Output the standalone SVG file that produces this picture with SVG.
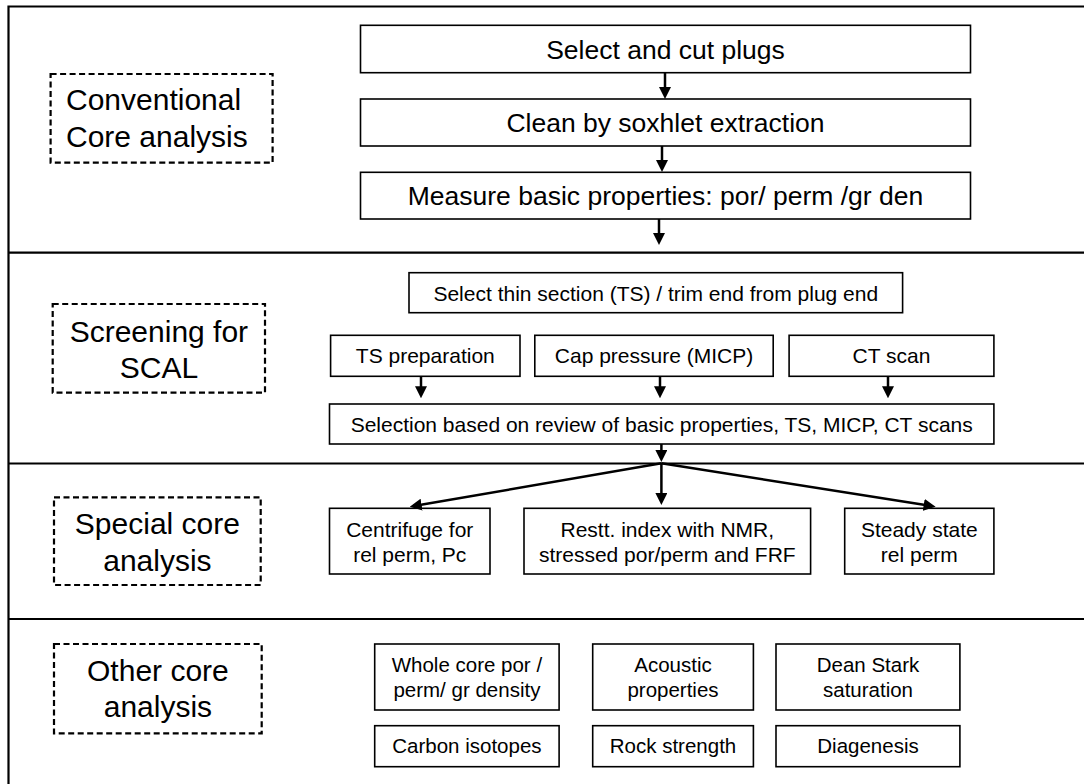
<svg xmlns="http://www.w3.org/2000/svg" width="1084" height="784" viewBox="0 0 1084 784">
<defs>
<marker id="ah" markerUnits="userSpaceOnUse" markerWidth="12" markerHeight="12" refX="8" refY="6" orient="auto">
<path d="M0,0 L12,6 L0,12 z" fill="#000"/>
</marker>
<style>
.frame{fill:none;stroke:#000;stroke-width:2.2}
.box{fill:#fff;stroke:#000;stroke-width:1.6}
.dash{fill:#fff;stroke:#000;stroke-width:2.2;stroke-dasharray:6,3.5}
.lbl{font-family:"Liberation Sans",Arial,sans-serif;font-size:30px;fill:#000}
.t1{font-family:"Liberation Sans",Arial,sans-serif;font-size:26.5px;fill:#000;text-anchor:middle}
.t2{font-family:"Liberation Sans",Arial,sans-serif;font-size:21px;fill:#000;text-anchor:middle}
.t3{font-family:"Liberation Sans",Arial,sans-serif;font-size:20.5px;fill:#000;text-anchor:middle}
.arr{fill:none;stroke:#000;stroke-width:2.5;marker-end:url(#ah)}
</style>
</defs>
<rect width="1084" height="784" fill="#fff"/>
<g id="frame">
<path class="frame" d="M1084,6.5 H8.5 V784"/>
<line class="frame" x1="8.5" y1="252.7" x2="1084" y2="252.7"/>
<line class="frame" x1="8.5" y1="463.5" x2="1084" y2="463.5"/>
<line class="frame" x1="8.5" y1="619" x2="1084" y2="619"/>
</g>
<g id="label-conventional">
<rect class="dash" x="50.6" y="74" width="222" height="88.7"/>
<text class="lbl" x="66" y="110">Conventional</text>
<text class="lbl" x="66" y="146.7">Core analysis</text>
</g>
<g id="label-screening">
<rect class="dash" x="52.7" y="304" width="212.3" height="88.7"/>
<text class="lbl" x="158.9" y="341.7" text-anchor="middle">Screening for</text>
<text class="lbl" x="158.9" y="378.3" text-anchor="middle">SCAL</text>
</g>
<g id="label-special">
<rect class="dash" x="54" y="497.3" width="206.7" height="87.7"/>
<text class="lbl" x="157.4" y="534" text-anchor="middle">Special core</text>
<text class="lbl" x="157.4" y="570.5" text-anchor="middle">analysis</text>
</g>
<g id="label-other">
<rect class="dash" x="54" y="644" width="207.7" height="89.3"/>
<text class="lbl" x="157.9" y="680.7" text-anchor="middle">Other core</text>
<text class="lbl" x="157.9" y="716.7" text-anchor="middle">analysis</text>
</g>
<g id="n-select">
<rect class="box" x="360.5" y="25.3" width="610" height="47.4"/>
<text class="t1" x="665.5" y="58.5">Select and cut plugs</text>
</g>
<g id="n-clean">
<rect class="box" x="360.5" y="99" width="610" height="47"/>
<text class="t1" x="665.5" y="131.8">Clean by soxhlet extraction</text>
</g>
<g id="n-measure">
<rect class="box" x="360.5" y="172.3" width="610" height="46.7"/>
<text class="t1" x="665.5" y="205">Measure basic properties: por/ perm /gr den</text>
</g>
<g id="n-thin">
<rect class="box" x="409" y="272.7" width="493.6" height="40"/>
<text class="t2" x="655.8" y="300.7">Select thin section (TS) / trim end from plug end</text>
</g>
<g id="n-tsprep">
<rect class="box" x="330.6" y="335.3" width="189.4" height="41"/>
<text class="t2" x="425.3" y="363.3">TS preparation</text>
</g>
<g id="n-micp">
<rect class="box" x="534.8" y="335.3" width="238.4" height="41"/>
<text class="t2" x="654" y="363.3">Cap pressure (MICP)</text>
</g>
<g id="n-ct">
<rect class="box" x="789.1" y="335.3" width="204.8" height="41"/>
<text class="t2" x="891.5" y="363.3">CT scan</text>
</g>
<g id="n-selection">
<rect class="box" x="329.5" y="404" width="664.4" height="40"/>
<text class="t2" x="661.7" y="431.8">Selection based on review of basic properties, TS, MICP, CT scans</text>
</g>
<g id="n-centrifuge">
<rect class="box" x="329.5" y="508.3" width="160.5" height="65.7"/>
<text class="t2" x="409.75" y="536.7">Centrifuge for</text>
<text class="t2" x="409.75" y="561.7">rel perm, Pc</text>
</g>
<g id="n-restt">
<rect class="box" x="524" y="508.3" width="286.6" height="65.7"/>
<text class="t2" x="667.3" y="536.7">Restt. index with NMR,</text>
<text class="t2" x="667.3" y="561.7">stressed por/perm and FRF</text>
</g>
<g id="n-steady">
<rect class="box" x="844.7" y="508.3" width="149.2" height="65.7"/>
<text class="t2" x="919.3" y="536.7">Steady state</text>
<text class="t2" x="919.3" y="561.7">rel perm</text>
</g>
<g id="n-whole">
<rect class="box" x="374.7" y="644" width="184.4" height="66"/>
<text class="t3" x="466.9" y="671.7">Whole core por /</text>
<text class="t3" x="466.9" y="696.7">perm/ gr density</text>
</g>
<g id="n-acoustic">
<rect class="box" x="592.7" y="644" width="160.7" height="66"/>
<text class="t3" x="673" y="671.7">Acoustic</text>
<text class="t3" x="673" y="696.7">properties</text>
</g>
<g id="n-dean">
<rect class="box" x="776" y="644" width="183.9" height="66"/>
<text class="t3" x="868" y="671.7">Dean Stark</text>
<text class="t3" x="868" y="696.7">saturation</text>
</g>
<g id="n-carbon">
<rect class="box" x="374.7" y="725.7" width="184.4" height="41"/>
<text class="t3" x="466.9" y="753.3">Carbon isotopes</text>
</g>
<g id="n-rock">
<rect class="box" x="592.7" y="725.7" width="160.7" height="41"/>
<text class="t3" x="673" y="753.3">Rock strength</text>
</g>
<g id="n-diag">
<rect class="box" x="776" y="725.7" width="183.9" height="41"/>
<text class="t3" x="868" y="753.3">Diagenesis</text>
</g>
<g id="connectors">
<line class="arr" x1="665" y1="72.7" x2="665" y2="95"/>
<line class="arr" x1="662" y1="146" x2="662" y2="168"/>
<line class="arr" x1="659" y1="219" x2="659" y2="241"/>
<line class="arr" x1="421" y1="376.3" x2="421" y2="394.3"/>
<line class="arr" x1="660" y1="376.3" x2="660" y2="394.3"/>
<line class="arr" x1="888" y1="376.3" x2="888" y2="394.3"/>
<line class="arr" x1="661.4" y1="444" x2="661.4" y2="458"/>
<line class="arr" x1="661.4" y1="463.3" x2="413.7" y2="506"/>
<line class="arr" x1="661.4" y1="463.3" x2="661.4" y2="501"/>
<line class="arr" x1="661.4" y1="463.3" x2="931.65" y2="506.07"/>
</g>
</svg>
